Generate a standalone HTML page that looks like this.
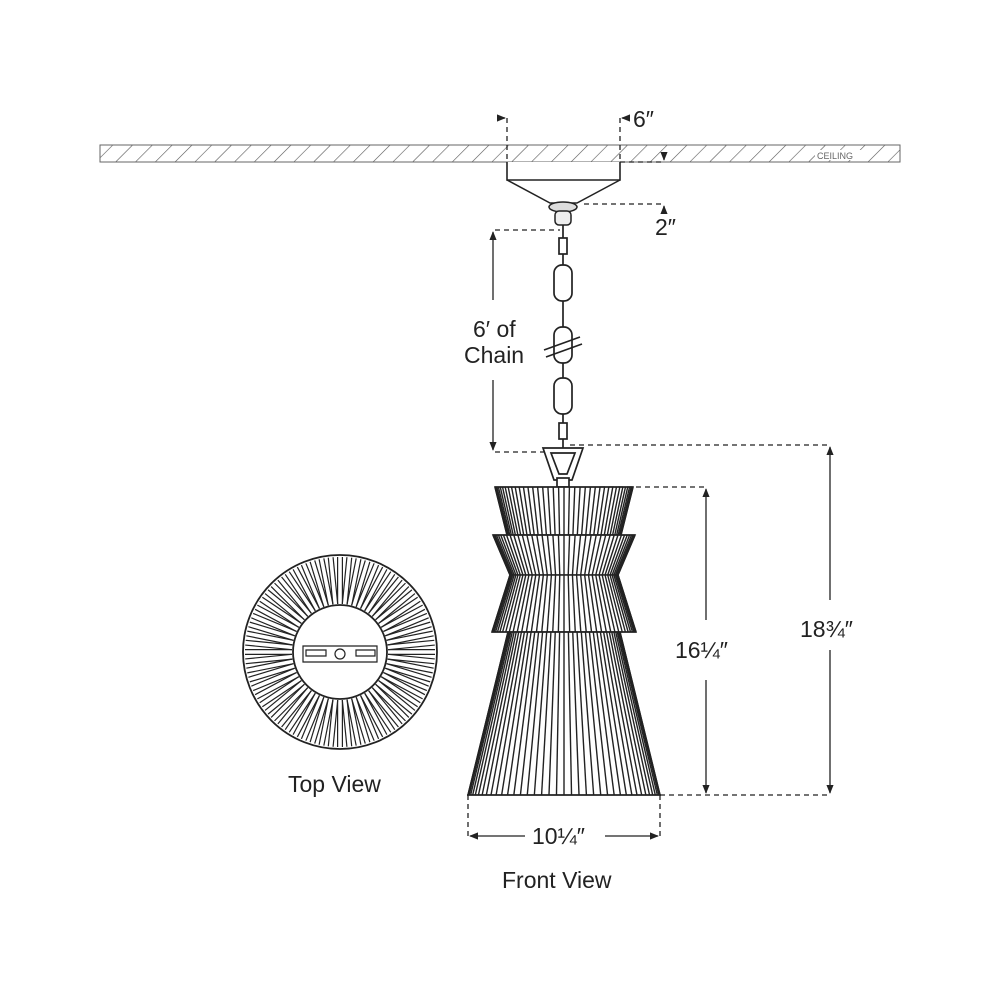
<!DOCTYPE html>
<html><head><meta charset="utf-8"><style>
html,body{margin:0;padding:0;background:#fff;width:1000px;height:1000px;overflow:hidden}
svg{display:block}
text{font-family:"Liberation Sans",sans-serif;fill:#222}
</style></head><body>
<svg id="s" width="1000" height="1000" viewBox="0 0 1000 1000" xmlns="http://www.w3.org/2000/svg">
<defs>
<pattern id="h" width="14" height="14" patternUnits="userSpaceOnUse" patternTransform="rotate(45)">
<line x1="0" y1="0" x2="0" y2="14" stroke="#555" stroke-width="1.2"/></pattern>
<marker id="a" viewBox="0 0 10 10" refX="9" refY="5" markerWidth="7" markerHeight="7" orient="auto-start-reverse"><path d="M0,1 L10,5 L0,9 z" fill="#222"/></marker>
</defs>
<rect x="100" y="145" width="800" height="17" fill="url(#h)" stroke="#666" stroke-width="1"/>
<rect x="815" y="150" width="50" height="10" fill="#fff"/>
<text x="817" y="159" font-size="9" style="fill:#666">CEILING</text>
<path d="M507,162 L507,180 L620,180 L620,162" fill="#fff" stroke="#222" stroke-width="1.6"/>
<path d="M507,180 L550,203 L577,203 L620,180" fill="none" stroke="#222" stroke-width="1.5"/>
<ellipse cx="563" cy="207" rx="14" ry="5" fill="#ddd" stroke="#222" stroke-width="1.5"/>
<rect x="555" y="211" width="16" height="14" rx="4" fill="#eee" stroke="#222" stroke-width="1.5"/>
<g stroke="#222" stroke-width="1.3" stroke-dasharray="5,4" fill="none">
<line x1="507" y1="118" x2="507" y2="162"/><line x1="620" y1="118" x2="620" y2="162"/>
<line x1="620" y1="162" x2="665" y2="162"/>
<line x1="584" y1="204" x2="665" y2="204"/>
<line x1="495" y1="230" x2="560" y2="230"/>
<line x1="495" y1="452" x2="560" y2="452"/>
<line x1="570" y1="445" x2="830" y2="445"/>
<line x1="600" y1="487" x2="706" y2="487"/>
<line x1="660" y1="795" x2="830" y2="795"/>
<line x1="468" y1="795" x2="468" y2="840"/><line x1="660" y1="795" x2="660" y2="840"/>
</g>
<g stroke="#222" stroke-width="1.3">
<line x1="497" y1="118" x2="505" y2="118" marker-end="url(#a)"/>
<line x1="630" y1="118" x2="622" y2="118" marker-end="url(#a)"/>
<line x1="664" y1="152" x2="664" y2="160" marker-end="url(#a)"/>
<line x1="664" y1="214" x2="664" y2="206" marker-end="url(#a)"/>
<line x1="493" y1="300" x2="493" y2="232" marker-end="url(#a)"/>
<line x1="493" y1="380" x2="493" y2="450" marker-end="url(#a)"/>
<line x1="706" y1="620" x2="706" y2="489" marker-end="url(#a)"/>
<line x1="706" y1="680" x2="706" y2="793" marker-end="url(#a)"/>
<line x1="830" y1="600" x2="830" y2="447" marker-end="url(#a)"/>
<line x1="830" y1="650" x2="830" y2="793" marker-end="url(#a)"/>
<line x1="525" y1="836" x2="470" y2="836" marker-end="url(#a)"/>
<line x1="605" y1="836" x2="658" y2="836" marker-end="url(#a)"/>
</g>
<text x="633" y="127" font-size="23">6″</text>
<text x="655" y="235" font-size="23">2″</text>
<text x="473" y="337" font-size="23">6′ of</text>
<text x="464" y="363" font-size="23">Chain</text>
<text x="675" y="658" font-size="23">16¼″</text>
<text x="800" y="637" font-size="23">18¾″</text>
<text x="532" y="844" font-size="23">10¼″</text>
<text x="502" y="888" font-size="23">Front View</text>
<text x="288" y="792" font-size="23">Top View</text>
<g fill="none" stroke="#222" stroke-width="1.7">
<line x1="563" y1="225" x2="563" y2="450"/>
<rect x="559" y="238" width="8" height="16" fill="#fff"/>
<rect x="554" y="265" width="18" height="36" rx="8" fill="#fff"/>
<rect x="554" y="327" width="18" height="36" rx="8" fill="#fff"/>
<rect x="554" y="378" width="18" height="36" rx="8" fill="#fff"/>
<rect x="559" y="423" width="8" height="16" fill="#fff"/>
<line x1="544" y1="350" x2="580" y2="337"/>
<line x1="546" y1="357" x2="582" y2="344"/>
<path d="M543,448 L583,448 L572,480 L554,480 Z" fill="#fff"/>
<path d="M551,453 L575,453 L567,474 L559,474 Z"/>
<rect x="557" y="478" width="12" height="9" fill="#fff"/>
</g>
<g id="shade" stroke="#222" stroke-width="1.6" fill="none"></g>
<g id="top" stroke="#222" stroke-width="1.2" fill="none"></g>
</svg>
<script>
var NS="http://www.w3.org/2000/svg";
function ln(g,x1,y1,x2,y2,w){var l=document.createElementNS(NS,"line");l.setAttribute("x1",x1);l.setAttribute("y1",y1);l.setAttribute("x2",x2);l.setAttribute("y2",y2);if(w)l.setAttribute("stroke-width",w);g.appendChild(l);}
function pth(g,d,f){var p=document.createElementNS(NS,"path");p.setAttribute("d",d);if(f)p.setAttribute("fill",f);g.appendChild(p);}
var g=document.getElementById("shade");
var cx=564;
var tiers=[[487,69,535,57],[535,71,575,54],[575,54,632,72],[632,56,795,96]];
tiers.forEach(function(t){
 pth(g,"M"+(cx-t[1])+","+t[0]+" L"+(cx+t[1])+","+t[0]+" L"+(cx+t[3])+","+t[2]+" L"+(cx-t[3])+","+t[2]+" Z","#fff");
 var n=40;
 for(var i=0;i<=n;i++){var a=Math.PI*i/n;var c=-Math.cos(a);
  ln(g,cx+c*t[1],t[0],cx+c*t[3],t[2],1.4);}
});
pth(g,"M495,487 L633,487 M493,535 L635,535 M492,632 L636,632 M467,795 L661,795");
var tg=document.getElementById("top");
var X=340,Y=652;
var c1=document.createElementNS(NS,"circle");c1.setAttribute("cx",X);c1.setAttribute("cy",Y);c1.setAttribute("r",97);c1.setAttribute("stroke-width",1.8);tg.appendChild(c1);
for(var i=0;i<64;i++){var a=2*Math.PI*i/64;
 var dx=Math.cos(a),dy=Math.sin(a),px=-dy*2.4,py=dx*2.4;
 ln(tg,X+dx*48+px,Y+dy*48+py,X+dx*95+px,Y+dy*95+py,1.2);
 ln(tg,X+dx*48-px,Y+dy*48-py,X+dx*95-px,Y+dy*95-py,1.2);}
var c2=document.createElementNS(NS,"circle");c2.setAttribute("cx",X);c2.setAttribute("cy",Y);c2.setAttribute("r",47);c2.setAttribute("fill","#fff");c2.setAttribute("stroke-width",1.8);tg.appendChild(c2);
pth(tg,"M303,646 L377,646 L377,662 L303,662 Z","#fff");
var c3=document.createElementNS(NS,"circle");c3.setAttribute("cx",X);c3.setAttribute("cy",654);c3.setAttribute("r",5);tg.appendChild(c3);
pth(tg,"M306,650 L326,650 L326,656 L306,656 Z M356,650 L375,650 L375,656 L356,656 Z");
</script>
</body></html>
